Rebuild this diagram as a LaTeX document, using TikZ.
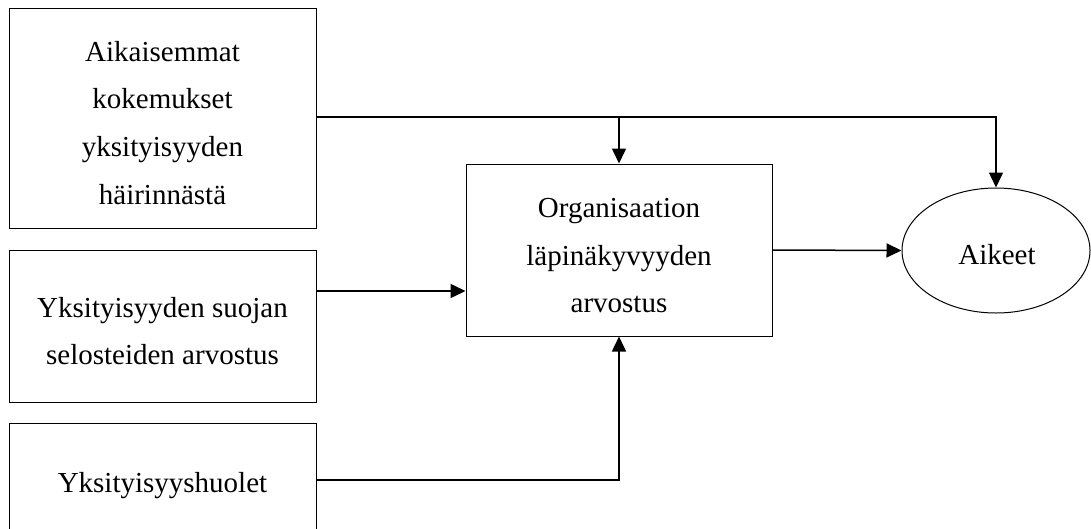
\documentclass[tikz,border=0pt]{standalone}
\usepackage{fontspec}
\setmainfont{Liberation Serif}
\usetikzlibrary{arrows.meta,shapes.geometric}

\tikzset{
  box/.style={draw=black, line width=1pt, inner sep=0pt, rectangle},
  oval/.style={draw=black, line width=1pt, inner sep=0pt, ellipse,
               minimum width=188pt, minimum height=125pt},
  txt/.style={font=\fontsize{29}{29}\selectfont, inner sep=0pt, anchor=base},
  conn/.style={line width=1.5pt, -{Triangle[length=15pt, width=14pt]}},
  wire/.style={line width=1.5pt}
}

\begin{document}
\begin{tikzpicture}[x=1pt, y=-1pt]
  \clip (0,0) rectangle (1091,528);

  % outer boxes
  \node[box, minimum width=307pt, minimum height=220pt] (b1) at (162.5,118) {};
  \node[box, minimum width=307pt, minimum height=152pt] (b2) at (162.5,326) {};
  \node[box, minimum width=307pt, minimum height=124pt] (b3) at (162.5,485) {};

  % central box and outcome
  \node[box, minimum width=306pt, minimum height=172pt] (cb) at (619,250) {};
  \node[oval] (ell) at (996,250.5) {};

  % box texts
  \node[txt] (b1a) at (162.5,61)    {Aikaisemmat};
  \node[txt] (b1b) at (162.5,108.5) {kokemukset};
  \node[txt] (b1c) at (162.5,156.5) {yksityisyyden};
  \node[txt] (b1d) at (162.5,204)   {häirinnästä};

  \node[txt] (b2a) at (162.5,317) {Yksityisyyden suojan};
  \node[txt] (b2b) at (162.5,364) {selosteiden arvostus};

  \node[txt] (b3a) at (162.5,492) {Yksityisyyshuolet};

  \node[txt] (cba) at (619,217) {Organisaation};
  \node[txt] (cbb) at (619,265.5) {läpinäkyvyyden};
  \node[txt] (cbc) at (619,312) {arvostus};

  \node[txt] (ella) at (997,264) {Aikeet};

  % connectors
  \draw[wire] ([yshift=1pt]b1.east) -- ([yshift=1pt]b1.east -| cb.north);
  \draw[conn] ([yshift=1pt]b1.east -| cb.north) -| (ell.north);
  \draw[conn] ([yshift=1pt]b1.east -| cb.north) -- (cb.north);
  \draw[conn] ([yshift=35pt]b2.east) -- ([yshift=35pt]b2.east -| cb.west);
  \draw[conn] ([yshift=5pt]b3.east) -| (cb.south);
  \draw[conn] (cb.east) -- (ell.west);
\end{tikzpicture}
\end{document}
